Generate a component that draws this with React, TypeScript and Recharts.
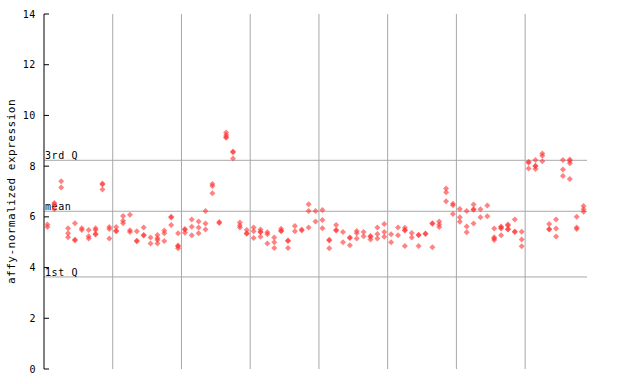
import { ScatterChart, Scatter, XAxis, YAxis, ReferenceLine } from 'recharts';

// expression values per sample column, one array per tissue group
const group1: number[][] = [
  [5.7, 5.6], [6.55, 6.5, 6.3], [7.4, 7.16], [5.55, 5.35, 5.2], [5.75, 5.1, 5.08],
  [5.55, 5.48], [5.48, 5.24, 5.15], [5.55, 5.48, 5.33, 5.3], [7.32, 7.28, 7.08], [5.6, 5.52, 5.15],
];
const group2: number[][] = [
  [5.6, 5.45, 5.43], [6.03, 5.85, 5.75], [6.08, 5.47, 5.4], [5.43, 5.06, 5.04], [5.58, 5.28, 5.26],
  [5.19, 4.95], [5.28, 5.16, 5.09, 4.95], [5.46, 5.35, 5.05], [6.0, 5.97, 5.68], [5.35, 4.87, 4.84, 4.76],
];
const group3: number[][] = [
  [5.52, 5.49, 5.37], [5.9, 5.61, 5.27], [5.82, 5.58, 5.35], [6.23, 5.74, 5.5], [7.3, 7.22, 6.93],
  [5.8, 5.76], [9.33, 9.23, 9.15, 9.12], [8.58, 8.55, 8.3], [5.78, 5.66, 5.58], [5.48, 5.35, 5.33],
];
const group4: number[][] = [
  [5.58, 5.43, 5.17], [5.5, 5.41, 5.39, 5.22], [5.39, 5.31, 4.95], [5.19, 5.0, 4.77], [5.53, 5.45, 5.43],
  [5.07, 5.05, 4.77], [5.64, 5.43], [5.5, 5.46], [6.5, 6.23, 5.58], [6.23, 5.82],
];
const group5: number[][] = [
  [6.27, 5.88, 5.55], [5.1, 5.07, 4.76], [5.68, 5.48, 5.46], [5.4, 5.0], [5.19, 5.17, 4.88],
  [5.44, 5.35, 5.15], [5.4, 5.24], [5.25, 5.22, 5.11], [5.58, 5.32, 5.15], [5.72, 5.4, 5.22],
];
const group6: number[][] = [
  [5.31, 5.0], [5.58, 5.27], [5.57, 5.48, 5.46, 4.85], [5.36, 5.19], [5.29, 5.27, 4.85],
  [5.34, 5.32], [5.75, 5.73, 4.8], [5.82, 5.7, 5.6], [7.12, 6.97, 6.62], [6.52, 6.46, 6.11],
];
const group7: number[][] = [
  [6.31, 5.98, 5.81], [6.23, 5.62, 5.39], [6.49, 6.3, 6.28, 5.74], [6.3, 5.98], [6.45, 6.02],
  [5.54, 5.2, 5.15, 5.09], [5.62, 5.58, 5.54, 5.27], [5.7, 5.66, 5.52, 5.5], [5.9, 5.42, 5.4], [5.41, 5.11, 4.84],
];
const group8: number[][] = [
  [8.17, 8.13, 7.91], [8.24, 8.02, 8.0, 7.89], [8.5, 8.41, 8.19], [5.72, 5.52, 5.5], [5.9, 5.54, 5.23],
  [8.24, 7.87, 7.61], [8.26, 8.2, 8.11, 7.49], [6.0, 5.58, 5.52], [6.43, 6.3, 6.2],
];

const groups = [group1, group2, group3, group4, group5, group6, group7, group8];

const yTicks = [0, 2, 4, 6, 8, 10, 12, 14];
const statLabels = ['3rd Q', 'mean', '1st Q'];
const statValues = [8.23, 6.22, 3.63];
const yTitle = 'affy-normalized expression';

const FONT = '"DejaVu Sans Mono", monospace';

const columns = groups.flat();
const points = columns.flatMap((vals, i) => vals.map((v) => ({ x: i, y: v })));

// separators between groups
const separators: number[] = [];
let acc = 0;
groups.slice(0, -1).forEach((g) => {
  acc += g.length;
  separators.push(acc - 0.5);
});

const Diamond = (props: any) => {
  const { cx, cy } = props;
  if (cx == null || cy == null) return null;
  const r = 3;
  return (
    <polygon
      points={`${cx},${cy - r} ${cx + r},${cy} ${cx},${cy + r} ${cx - r},${cy}`}
      fill="#ff3030"
      fillOpacity={0.6}
    />
  );
};

const LeftTick = (props: any) => {
  const { x, y, payload } = props;
  return (
    <g>
      <line x1={x + 8} x2={x + 13} y1={y} y2={y} stroke="#000" />
      <text x={x} y={y} dy={3.5} textAnchor="end" fontSize={10} fontFamily={FONT} letterSpacing={0.6} fill="#000">
        {payload.value}
      </text>
    </g>
  );
};

const RightTick = (props: any) => {
  const { x, y } = props;
  return <line x1={x - 8} x2={x - 3} y1={y} y2={y} stroke="#000" />;
};

const StatLabel = (props: any) => {
  const { viewBox, text } = props;
  return (
    <text x={viewBox.x + 1} y={viewBox.y - 1} fontSize={10} fontFamily={FONT} letterSpacing={0.6} fill="#000">
      {text}
    </text>
  );
};

const AxisTitle = (props: any) => {
  const { viewBox } = props;
  const cx = viewBox.x + 15;
  const cy = viewBox.y + viewBox.height / 2;
  return (
    <text
      x={cx}
      y={cy}
      transform={`rotate(-90, ${cx}, ${cy})`}
      textAnchor="middle"
      fontSize={11}
      fontFamily={FONT}
      letterSpacing={0.5}
      fill="#000"
    >
      {yTitle}
    </text>
  );
};

export default function App() {
  return (
    <div style={{ position: 'absolute', left: 0, top: 0, width: 640, height: 384, background: '#fff' }}>
      <ScatterChart width={640} height={384} margin={{ top: 14, right: 53, bottom: 15, left: 0 }}>
        <XAxis
          type="number"
          dataKey="x"
          domain={[-0.5, 78.5]}
          ticks={[]}
          tick={false}
          tickLine={false}
          height={0}
          axisLine={{ stroke: '#000' }}
        />
        <XAxis
          xAxisId="top"
          orientation="top"
          type="number"
          domain={[-0.5, 78.5]}
          ticks={[]}
          tick={false}
          tickLine={false}
          height={0}
          axisLine={{ stroke: '#000' }}
        />
        <YAxis
          type="number"
          dataKey="y"
          domain={[0, 14]}
          ticks={yTicks}
          width={44}
          tickLine={false}
          tickSize={6}
          tickMargin={2}
          tick={<LeftTick />}
          axisLine={{ stroke: '#000' }}
          label={<AxisTitle />}
        />
        <YAxis
          yAxisId="right"
          orientation="right"
          type="number"
          domain={[0, 14]}
          ticks={yTicks}
          width={0}
          tickLine={false}
          tickSize={6}
          tickMargin={2}
          tick={<RightTick />}
          axisLine={{ stroke: '#000' }}
        />
        {separators.map((s) => (
          <ReferenceLine key={'v' + s} x={s} stroke="#a8a8a8" />
        ))}
        {statValues.map((v, i) => (
          <ReferenceLine
            key={statLabels[i]}
            y={v}
            stroke="#a8a8a8"
            label={<StatLabel text={statLabels[i]} />}
          />
        ))}
        <Scatter data={points} shape={<Diamond />} isAnimationActive={false} />
      </ScatterChart>
    </div>
  );
}
